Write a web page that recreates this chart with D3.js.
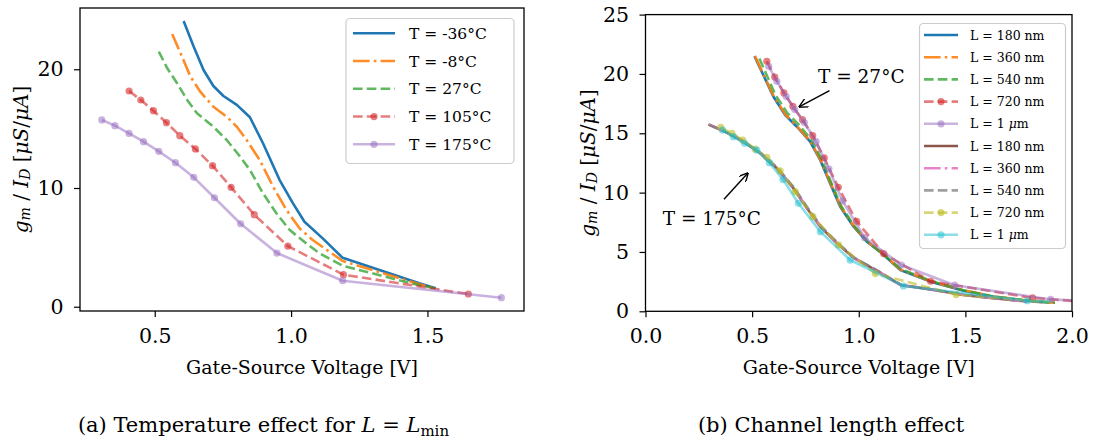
<!DOCTYPE html>
<html><head><meta charset="utf-8">
<script src="https://cdn.jsdelivr.net/npm/d3@7"></script>
<style>
body{margin:0;background:#fff;}
svg{display:block;font-family:"DejaVu Serif",serif;}
</style></head><body>
<svg id="fig" width="1095" height="446"></svg>
<script>
// ---------- Data: (a) Temperature effect, L = Lmin ----------
const tLabels = ["T = -36°C", "T = -8°C", "T = 27°C", "T = 105°C", "T = 175°C"];
const vgsTm36 = [0.606,0.643,0.679,0.715,0.752,0.801,0.849,0.897,0.958,1.007,1.049,1.116,1.189,1.47,1.53];
const gmTm36  = [24.07,21.9,19.94,18.59,17.75,17.0,15.96,13.77,10.67,8.71,7.16,5.76,4.12,1.97,1.55];
const vgsTm8  = [0.564,0.600,0.631,0.667,0.715,0.764,0.801,0.837,0.885,0.934,0.983,1.031,1.079,1.189,1.47,1.53];
const gmTm8   = [22.97,21.06,19.38,18.11,16.85,16.0,15.16,14.04,12.36,10.11,8.15,6.6,5.62,3.85,1.9,1.55];
const vgsT27  = [0.515,0.546,0.582,0.619,0.655,0.715,0.764,0.813,0.849,0.897,0.946,0.995,1.055,1.104,1.189,1.47,1.53];
const gmT27   = [21.48,20.08,18.82,17.41,16.29,15.16,14.04,12.64,11.52,9.55,7.87,6.46,5.34,4.5,3.45,1.8,1.55];
const vgsT105 = [0.406,0.449,0.495,0.543,0.592,0.649,0.712,0.780,0.865,0.988,1.192,1.650];
const gmT105  = [18.17,17.41,16.51,15.5,14.41,13.29,11.88,10.06,7.75,5.11,2.7,1.07];
const vgsT175 = [0.306,0.354,0.406,0.459,0.515,0.576,0.643,0.719,0.815,0.948,1.189,1.771];
const gmT175  = [15.73,15.25,14.6,13.9,13.09,12.13,10.9,9.18,6.99,4.52,2.19,0.76];

// ---------- Data: (b) Channel length effect ----------
const lLabels = ["L = 180 nm", "L = 360 nm", "L = 540 nm", "L = 720 nm", "L = 1 μm"];
// T = 27°C
const vgs27L180 = [0.511,0.600,0.655,0.710,0.772,0.819,0.866,0.913,0.976,1.038,1.101,1.195,1.336,1.492,1.633,1.79,1.9];
const gm27L180  = [21.5,18.08,16.54,15.55,14.29,12.75,10.78,8.81,7.13,5.86,5.0,3.48,2.5,1.74,1.23,0.89,0.72];
const vgs27L360 = [0.513,0.602,0.657,0.712,0.774,0.821,0.868,0.915,0.978,1.040,1.103,1.197,1.338,1.494,1.635,1.79,1.92];
const gm27L360  = [21.5,18.1,16.56,15.56,14.3,12.76,10.8,8.83,7.15,5.88,5.0,3.5,2.52,1.76,1.25,0.9,0.72];
const vgs27L540 = [0.534,0.61,0.665,0.72,0.78,0.826,0.872,0.918,0.98,1.04,1.10,1.20,1.34,1.49,1.63,1.79,1.92];
const gm27L540  = [21.3,18.2,16.7,15.7,14.4,12.8,10.8,8.85,7.15,5.9,5.0,3.55,2.55,1.78,1.25,0.9,0.72];
const vgs27L720 = [0.569,0.606,0.649,0.691,0.736,0.784,0.838,0.904,0.990,1.117,1.337,1.815,2.0];
const gm27L720  = [21.06,19.74,18.4,17.27,16.15,14.8,12.92,10.45,7.58,4.86,2.53,1.13,0.88];
const vgs27L1u  = [0.578,0.616,0.66,0.70,0.745,0.80,0.86,0.924,1.028,1.20,1.45,1.90,2.0];
const gm27L1u   = [20.64,19.38,18.1,17.0,15.9,14.3,12.0,9.3,6.2,3.9,2.2,1.0,0.92];
// T = 175°C
const vgs175L180 = [0.295,0.381,0.459,0.538,0.616,0.694,0.757,0.820,0.898,0.976,1.086,1.195,1.336,1.492,1.633,1.79];
const gm175L180  = [15.75,15.05,14.29,13.31,12.05,10.36,8.68,7.13,5.73,4.5,3.4,2.22,1.85,1.37,1.1,0.82];
const vgs175L360 = [0.297,0.383,0.461,0.540,0.618,0.696,0.759,0.822,0.900,0.978,1.088,1.197,1.338,1.494,1.635,1.80];
const gm175L360  = [15.75,15.05,14.29,13.31,12.05,10.36,8.68,7.13,5.73,4.5,3.4,2.22,1.85,1.37,1.1,0.8];
const vgs175L540 = [0.30,0.385,0.463,0.542,0.62,0.698,0.761,0.824,0.902,0.98,1.09,1.20,1.34,1.50,1.64,1.88];
const gm175L540  = [15.7,15.05,14.3,13.32,12.07,10.38,8.7,7.15,5.75,4.5,3.4,2.22,1.85,1.37,1.1,0.72];
const vgs175L720 = [0.353,0.405,0.456,0.514,0.569,0.631,0.702,0.785,0.905,1.078,1.457,1.9];
const gm175L720  = [15.5,15.0,14.43,13.67,12.97,11.84,10.08,7.97,5.59,3.18,1.41,0.75];
const vgs175L1u  = [0.361,0.412,0.465,0.522,0.581,0.645,0.717,0.82,0.96,1.21,1.79,1.9];
const gm175L1u   = [15.27,14.71,14.15,13.59,12.52,11.1,9.1,6.71,4.32,2.13,0.89,0.8];

// ticks
const xTicksA = [0.5, 1.0, 1.5];
const yTicksA = [0, 10, 20];
const xTicksB = [0, 0.5, 1.0, 1.5, 2.0];
const yTicksB = [0, 5, 10, 15, 20, 25];

// ---------- styles ----------
const LW = 2.6;
const DASH = { solid: null, dashed: "9.6,4.2", dashdot: "16.6,4.2,2.6,4.2" };
const styles = [
  { color: "#1f77b4", alpha: 1.0, dash: "solid", marker: false },
  { color: "#ff7f0e", alpha: 0.9, dash: "dashdot", marker: false },
  { color: "#2ca02c", alpha: 0.75, dash: "dashed", marker: false },
  { color: "#d62728", alpha: 0.6, dash: "dashed", marker: true },
  { color: "#9467bd", alpha: 0.5, dash: "solid", marker: true }
];
const styles2 = [
  { color: "#8c564b", alpha: 1.0, dash: "solid", marker: false },
  { color: "#e377c2", alpha: 0.9, dash: "dashdot", marker: false },
  { color: "#7f7f7f", alpha: 0.75, dash: "dashed", marker: false },
  { color: "#bcbd22", alpha: 0.6, dash: "dashed", marker: true },
  { color: "#17becf", alpha: 0.5, dash: "solid", marker: true }
];

const svg = d3.select("#fig");
const FONT = '"DejaVu Serif", serif';

function drawHandle(g, s, x0, x1, yy) {
  g.append("line").attr("x1", x0).attr("x2", x1).attr("y1", yy).attr("y2", yy)
    .attr("stroke", s.color).attr("stroke-opacity", s.alpha).attr("stroke-width", LW)
    .attr("stroke-dasharray", DASH[s.dash]);
  if (s.marker) {
    g.append("circle").attr("cx", (x0 + x1) / 2).attr("cy", yy).attr("r", 3.6)
      .attr("fill", s.color).attr("fill-opacity", s.alpha);
  }
}

function panel(p) {
  const x = d3.scaleLinear().domain(p.xDomain).range([p.left, p.right]);
  const y = d3.scaleLinear().domain(p.yDomain).range([p.bottom, p.top]);
  const g = svg.append("g");
  svg.append("clipPath").attr("id", p.id).append("rect")
    .attr("x", p.left).attr("y", p.top).attr("width", p.right - p.left).attr("height", p.bottom - p.top);
  const plot = g.append("g").attr("clip-path", `url(#${p.id})`);
  const line = d3.line().x(d => x(d[0])).y(d => y(d[1]));
  p.series.forEach(s => {
    const pts = d3.zip(s.x, s.y);
    plot.append("path").attr("d", line(pts)).attr("fill", "none")
      .attr("stroke", s.color).attr("stroke-opacity", s.alpha).attr("stroke-width", LW)
      .attr("stroke-linejoin", "round").attr("stroke-dasharray", DASH[s.dash]);
    if (s.marker) {
      const mp = s.endMarker === false ? pts.slice(0, -1) : pts;
      plot.selectAll(null).data(mp).enter().append("circle")
        .attr("cx", d => x(d[0])).attr("cy", d => y(d[1])).attr("r", 3.6)
        .attr("fill", s.color).attr("fill-opacity", s.alpha);
    }
  });
  // axes
  const ax = g.append("g").attr("transform", `translate(0,${p.bottom})`)
    .call(d3.axisBottom(x).tickValues(p.xTicks).tickFormat(d3.format(".1f")).tickSize(6).tickPadding(11));
  const ay = g.append("g").attr("transform", `translate(${p.left},0)`)
    .call(d3.axisLeft(y).tickValues(p.yTicks).tickFormat(d3.format("d")).tickSize(6).tickPadding(10.5));
  [ax, ay].forEach(a => {
    a.select(".domain").remove();
    a.selectAll("line").attr("stroke", "#000").attr("stroke-width", 1.2);
    a.selectAll("text").attr("font-family", FONT).attr("font-size", 20.5).attr("fill", "#000");
  });
  g.append("rect").attr("x", p.left).attr("y", p.top).attr("width", p.right - p.left)
    .attr("height", p.bottom - p.top).attr("fill", "none").attr("stroke", "#000").attr("stroke-width", 1.3);
  // x label
  g.append("text").attr("x", (p.left + p.right) / 2).attr("y", 374).attr("text-anchor", "middle")
    .attr("font-size", 19).attr("font-family", FONT).text("Gate-Source Voltage [V]");
  // y label
  const yl = g.append("text").attr("transform", `translate(${p.ylabelX},${(p.top + p.bottom) / 2}) rotate(-90)`)
    .attr("text-anchor", "middle").attr("dominant-baseline", "central")
    .attr("font-size", 20).attr("font-family", FONT);
  yl.append("tspan").attr("font-style", "italic").text("g");
  yl.append("tspan").attr("font-style", "italic").attr("font-size", 14).attr("dy", 4).text("m");
  yl.append("tspan").attr("dy", -4).text(" / ");
  yl.append("tspan").attr("font-style", "italic").text("I");
  yl.append("tspan").attr("font-style", "italic").attr("font-size", 14).attr("dy", 4).text("D");
  yl.append("tspan").attr("dy", -4).text(" [");
  yl.append("tspan").attr("font-style", "italic").text("μS");
  yl.append("tspan").text("/");
  yl.append("tspan").attr("font-style", "italic").text("μA");
  yl.append("tspan").text("]");
  // legend
  const L = p.legend;
  const lg = g.append("g");
  lg.append("rect").attr("x", L.x).attr("y", L.y).attr("width", L.w).attr("height", L.h)
    .attr("rx", 4).attr("fill", "#fff").attr("fill-opacity", 0.8).attr("stroke", "#cccccc").attr("stroke-width", 1.2);
  p.series.forEach((s, i) => {
    const yy = L.row0 + i * L.dy;
    drawHandle(lg, s, L.hx0, L.hx1, yy);
    const t = lg.append("text").attr("x", L.tx).attr("y", yy + L.fs * 0.36)
      .attr("font-size", L.fs).attr("font-family", FONT);
    if (s.label.includes("μ")) {
      t.append("tspan").text("L = 1 ");
      t.append("tspan").attr("font-style", "italic").text("μ");
      t.append("tspan").text("m");
    } else t.text(s.label);
  });
  return { x, y, g };
}

// ---------- Panel (a) ----------
const seriesA = [
  [vgsTm36, gmTm36], [vgsTm8, gmTm8], [vgsT27, gmT27], [vgsT105, gmT105], [vgsT175, gmT175]
].map((d, i) => Object.assign({ x: d[0], y: d[1], label: tLabels[i] }, styles[i]));

panel({
  id: "clipA", left: 80, right: 524, top: 8, bottom: 311,
  xDomain: [0.226, 1.854], yDomain: [-0.36, 25.16],
  xTicks: xTicksA, yTicks: yTicksA, ylabelX: 21, series: seriesA,
  legend: { x: 346, y: 18.5, w: 168, h: 145, row0: 33.3, dy: 27.75, hx0: 353, hx1: 395, tx: 409, fs: 15.5 }
});

// ---------- Panel (b) ----------
const seriesB = [
  [vgs27L180, gm27L180], [vgs27L360, gm27L360], [vgs27L540, gm27L540], [vgs27L720, gm27L720], [vgs27L1u, gm27L1u]
].map((d, i) => Object.assign({ x: d[0], y: d[1], label: lLabels[i], endMarker: false }, styles[i]))
 .concat([
  [vgs175L180, gm175L180], [vgs175L360, gm175L360], [vgs175L540, gm175L540], [vgs175L720, gm175L720], [vgs175L1u, gm175L1u]
 ].map((d, i) => Object.assign({ x: d[0], y: d[1], label: lLabels[i], endMarker: false }, styles2[i])));

panel({
  id: "clipB", left: 645.5, right: 1072, top: 14.6, bottom: 311.3,
  xDomain: [0, 2], yDomain: [0, 25],
  xTicks: xTicksB, yTicks: yTicksB, ylabelX: 588, series: seriesB,
  legend: { x: 919.5, y: 23.5, w: 146, h: 225, row0: 35, dy: 22.2, hx0: 924, hx1: 958, tx: 970, fs: 12.5 }
});

// annotations
svg.append("defs").append("marker").attr("id", "ah").attr("viewBox", "0 0 10 10")
  .attr("refX", 9).attr("refY", 5).attr("markerWidth", 9).attr("markerHeight", 9)
  .attr("markerUnits", "userSpaceOnUse").attr("orient", "auto")
  .append("path").attr("d", "M0,0 L10,5 L0,10").attr("fill", "none").attr("stroke", "#000").attr("stroke-width", 1.6);
const ann = [
  { text: "T = 27°C", tx: 818, ty: 83, ax0: 829.5, ay0: 90.7, ax1: 799.5, ay1: 106.7 },
  { text: "T = 175°C", tx: 662.7, ty: 224.5, ax0: 724, ay0: 199.3, ax1: 747.7, ay1: 173.3 }
];
ann.forEach(a => {
  svg.append("text").attr("x", a.tx).attr("y", a.ty).attr("font-size", 18.5).attr("font-family", FONT).text(a.text);
  svg.append("line").attr("x1", a.ax0).attr("y1", a.ay0).attr("x2", a.ax1).attr("y2", a.ay1)
    .attr("stroke", "#000").attr("stroke-width", 1.4).attr("marker-end", "url(#ah)");
});

// captions
const capA = svg.append("text").attr("x", 263.5).attr("y", 432).attr("text-anchor", "middle")
  .attr("font-size", 21).attr("font-family", FONT);
capA.append("tspan").text("(a) Temperature effect for ");
capA.append("tspan").attr("font-style", "italic").text("L");
capA.append("tspan").text(" = ");
capA.append("tspan").attr("font-style", "italic").text("L");
capA.append("tspan").attr("font-size", 15).attr("dy", 4).text("min");
svg.append("text").attr("x", 831).attr("y", 432).attr("text-anchor", "middle")
  .attr("font-size", 21).attr("font-family", FONT).text("(b) Channel length effect");
</script>
</body></html>
